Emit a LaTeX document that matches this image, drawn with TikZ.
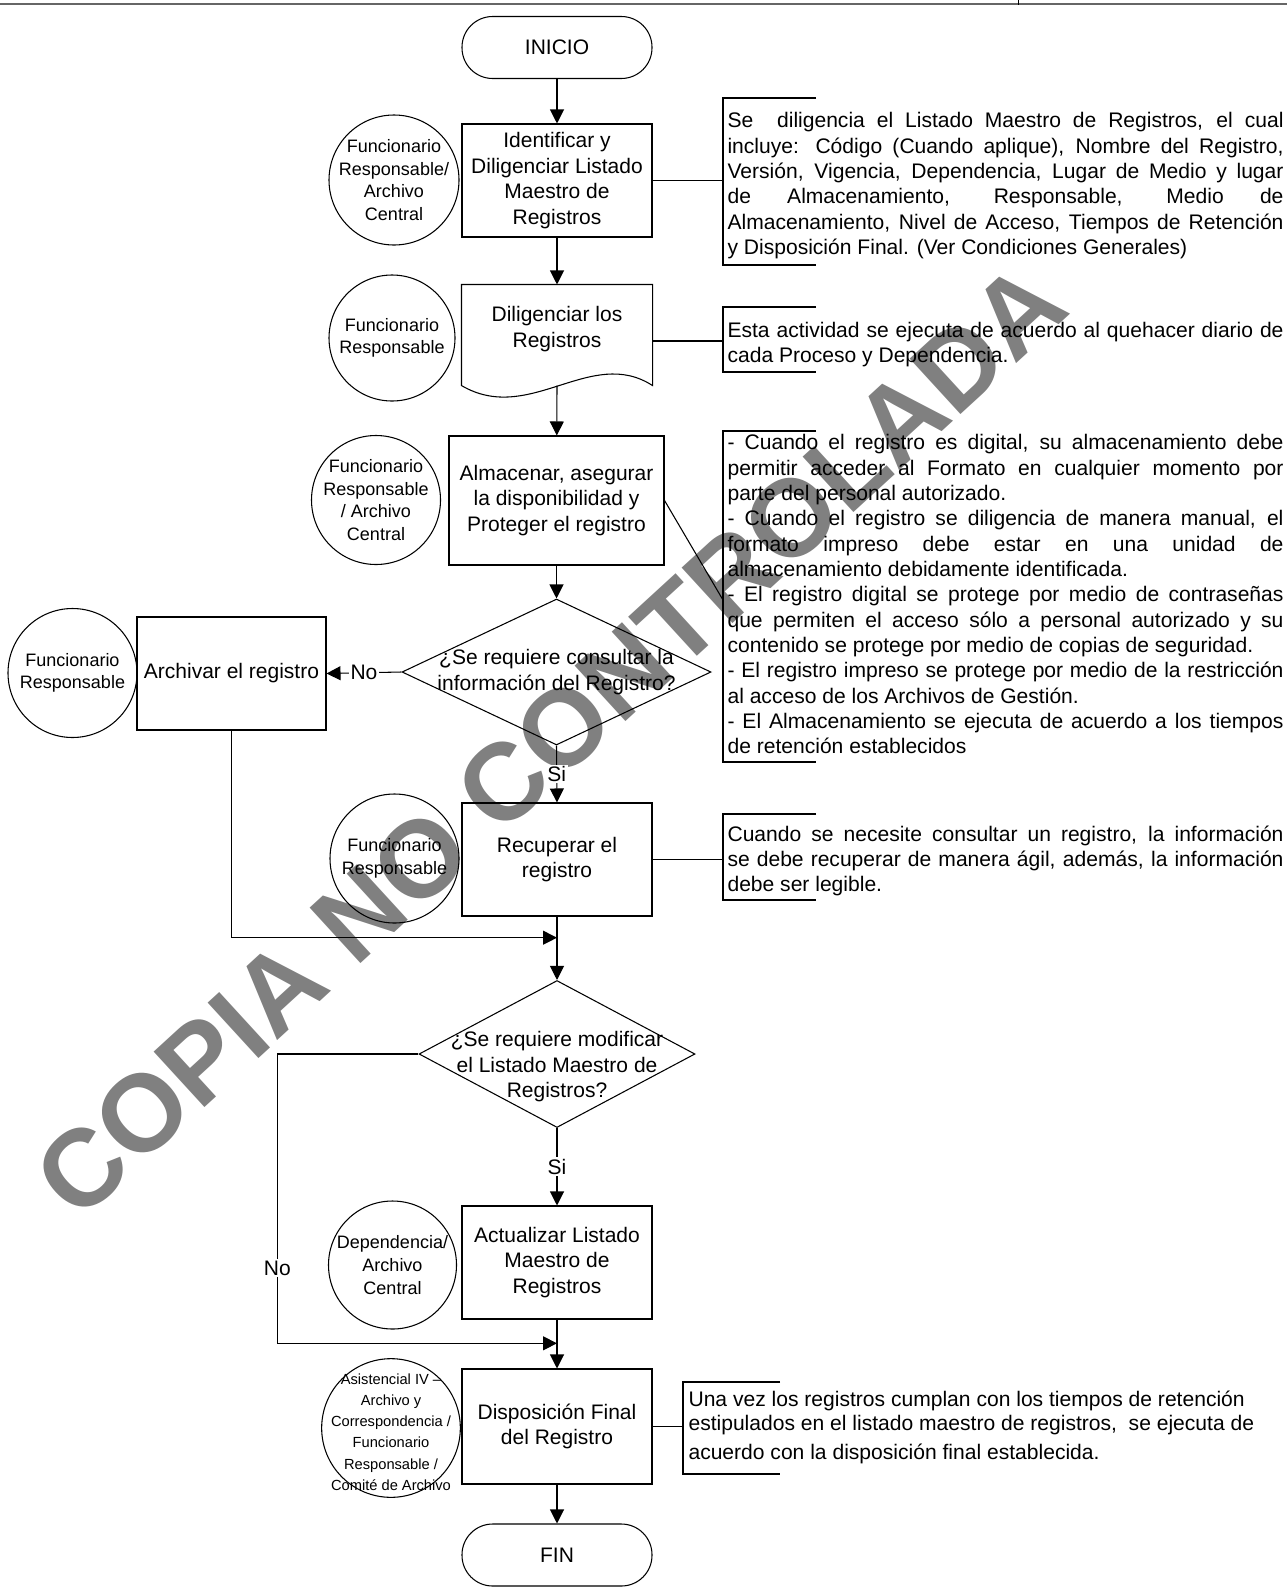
\documentclass[tikz,border=0pt]{standalone}
\usepackage{fontspec}
\setmainfont{Liberation Sans}
\usetikzlibrary{arrows.meta,shapes.geometric,calc}

\newlength\annw \setlength\annw{417pt}
\newcommand\annline[1]{\makebox[\annw][s]{#1}}
\newcommand\boxfont{\fontsize{15.75pt}{19.2pt}\selectfont}
\newcommand\annfont{\fontsize{15.8pt}{19pt}\selectfont}
\newcommand\annfontb{\fontsize{15.8pt}{16.5pt}\selectfont}
\newcommand\circfont{\fontsize{13.5pt}{17pt}\selectfont}
\newcommand\smallcircfont{\fontsize{11pt}{15.9pt}\selectfont}

\tikzset{
  flowbox/.style={draw, rectangle, align=center, font=\boxfont, inner sep=2pt,
                  minimum width=142.5pt, minimum height=84.75pt},
  term/.style={draw, rectangle, rounded corners=23pt, align=center, font=\boxfont,
               minimum width=142.5pt, minimum height=46.5pt},
  role/.style={draw, circle, inner sep=0pt, minimum size=#1},
  roletext/.style={align=center, font=\circfont, inner sep=0pt},
  dec/.style={draw, diamond, inner sep=0pt},
  dectext/.style={align=center, font=\boxfont, inner sep=0pt},
  arr/.style={-{Triangle[length=10.5pt,width=10.5pt]}},
  lab/.style={fill=white, inner sep=1.2pt, font=\boxfont},
  ann/.style={anchor=north west, inner sep=0pt, align=left, font=\annfont},
  brk/.style={draw},
}

\begin{document}
\begin{tikzpicture}[x=0.75pt, y=-0.75pt, line width=0.8pt]
\useasboundingbox (0,0) rectangle (1287,1589);

% watermark (behind everything)
\node[rotate=42.5, text=black!50, inner sep=0pt,
      font=\fontsize{82pt}{82pt}\selectfont\bfseries] (wm) at (550,740) {COPIA NO CONTROLADA};

% top rule
\draw[line width=1.3pt, black!60] (0,4) -- (1287,4);
\draw[line width=0.6pt] (1018,0) -- (1018,5);

% main flow
\node[term] (inicio) at (557,47.5) {INICIO};
\node[flowbox] (id) at (557,180.5) {Identificar y\\Diligenciar Listado\\Maestro de\\Registros};
\node[role=97.5pt, label={[roletext]center:Funcionario\\Responsable/\\Archivo\\Central}] (c1) at (394,180) {};

% document shape
\node[draw=none, minimum width=142.5pt, minimum height=75pt, inner sep=0pt] (dil) at (557,335) {};
\draw (dil.north west) -- (dil.north east) -- (dil.south east)
      .. controls ($(dil.south east)+(-62,-40)$) and ($(dil.south west)+(68,40)$) .. (dil.south west) -- cycle;
\node[align=center, font=\boxfont] (dilt) at (557,329) {Diligenciar los\\Registros};
\node[role=94.5pt, label={[roletext]center:Funcionario\\Responsable}] (c2) at (392,338) {};

\node[flowbox, minimum width=161.25pt, minimum height=96.75pt] (alm) at (556.5,500.5) {Almacenar, asegurar\\la disponibilidad y\\Proteger el registro};
\node[role=96.75pt, label={[roletext]center:Funcionario\\Responsable\\/ Archivo\\Central}] (c3) at (376,500) {};

\node[dec, minimum width=231.75pt, minimum height=109.5pt,
      label={[dectext]center:¿Se requiere consultar la\\información del Registro?}] (d1) at (556.5,672) {};

\node[flowbox, minimum width=141.75pt] (arch) at (231.5,673.5) {Archivar el registro};
\node[role=96.75pt, label={[roletext]center:Funcionario\\Responsable}] (c4) at (72.5,673) {};

\node[flowbox] (rec) at (557,859.5) {Recuperar el\\registro};
\node[role=96.75pt, label={[roletext]center:Funcionario\\Responsable}] (c7) at (394.5,858.5) {};

\node[dec, minimum width=207pt, minimum height=110.25pt,
      label={[dectext, yshift=-9.5pt]center:¿Se requiere modificar\\el Listado Maestro de\\Registros?}] (d2) at (557,1054) {};

\node[flowbox] (act) at (557,1262.5) {Actualizar Listado\\Maestro de\\Registros};
\node[role=96pt, label={[roletext]center:Dependencia/\\Archivo\\Central}] (c5) at (392.5,1265) {};

\node[flowbox, minimum height=86.25pt] (disp) at (557,1426.5) {Disposición Final\\del Registro};
\node[role=104pt, label={[roletext, font=\smallcircfont, yshift=-3pt]center:Asistencial IV –\\Archivo y\\Correspondencia /\\Funcionario\\Responsable /\\Comité de Archivo}] (c6) at (391,1428) {};

\node[term] (fin) at (557,1555) {FIN};

% connectors
\coordinate (m1) at (557,937.7);
\coordinate (m2) at (557,1343.3);
\coordinate (nox) at (277.3,1343.3);

\draw[arr] (inicio) -- (id);
\draw[arr] (id) -- (dil.north);
\draw[arr] (dil.south) -- (alm);
\draw[arr] (alm) -- (d1.north);
\draw[arr] (d1.west) -- node[lab]{No} (arch.east);
\draw[arr] (d1.south) -- node[lab]{Si} (rec.north);
\draw[arr] (arch.south) |- (m1);
\draw[arr] (rec.south) -- (d2.north);
\draw[arr] (d2.south) -- node[lab]{Si} (act.north);
\draw[arr] (d2.west) -- (d2.west -| nox) -- node[lab, pos=0.74]{No} (nox) -- (m2);
\draw[arr] (act.south) -- (disp.north);
\draw[arr] (disp.south) -- (fin.north);

% annotation brackets
\coordinate (a1) at (723,180.5);
\coordinate (a2) at (723,341);
\coordinate (a3) at (723,600);
\coordinate (a7) at (723,859.5);
\coordinate (a6) at (683,1426.5);

\draw[brk] (816,98) -- (723,98) -- (723,265) -- (816,265);
\draw[brk] (816,307) -- (723,307) -- (723,372) -- (816,372);
\draw[brk] (816,431) -- (723,431) -- (723,762) -- (816,762);
\draw[brk] (816,814) -- (723,814) -- (723,900) -- (816,900);
\draw[brk] (780,1382) -- (683,1382) -- (683,1474) -- (780,1474);

\draw (id.east) -- (a1);
\draw (a2 -| dil.east) -- (a2);
\draw (alm.east) -- (a3);
\draw (rec.east) -- (a7);
\draw (disp.east) -- (a6);

% annotation texts
\node[ann] (t1) at (727,112) {%
\annline{Se\ \ diligencia el Listado Maestro de Registros, el cual}\\
\annline{incluye: Código (Cuando aplique), Nombre del Registro,}\\
\annline{Versión, Vigencia, Dependencia, Lugar de Medio y lugar}\\
\annline{de Almacenamiento, Responsable, Medio de}\\
\annline{Almacenamiento, Nivel de Acceso, Tiempos de Retención}\\
y Disposición Final. (Ver Condiciones Generales)};

\node[ann] (t2) at (727,321.5) {%
\annline{Esta actividad se ejecuta de acuerdo al quehacer diario de}\\
cada Proceso y Dependencia.};

\node[ann] (t3) at (727,434) {%
\annline{- Cuando el registro es digital, su almacenamiento debe}\\
\annline{permitir acceder al Formato en cualquier momento por}\\
parte del personal autorizado.\\
\annline{- Cuando el registro se diligencia de manera manual, el}\\
\annline{formato impreso debe estar en una unidad de}\\
almacenamiento debidamente identificada.\\
\annline{- El registro digital se protege por medio de contraseñas}\\
\annline{que permiten el acceso sólo a personal autorizado y su}\\
contenido se protege por medio de copias de seguridad.\\
\annline{- El registro impreso se protege por medio de la restricción}\\
al acceso de los Archivos de Gestión.\\
\annline{- El Almacenamiento se ejecuta de acuerdo a los tiempos}\\
de retención establecidos};

\node[ann] (t7) at (727,825) {%
\annline{Cuando se necesite consultar un registro, la información}\\
\annline{se debe recuperar de manera ágil, además, la información}\\
debe ser legible.};

\node[ann, font=\annfontb] (t6) at (688,1390) {%
Una vez los registros cumplan con los tiempos de retención\\[1.5pt]
estipulados en el listado maestro de registros,\ \ se ejecuta de\\[5.25pt]
acuerdo con la disposición final establecida.};

\end{tikzpicture}
\end{document}
